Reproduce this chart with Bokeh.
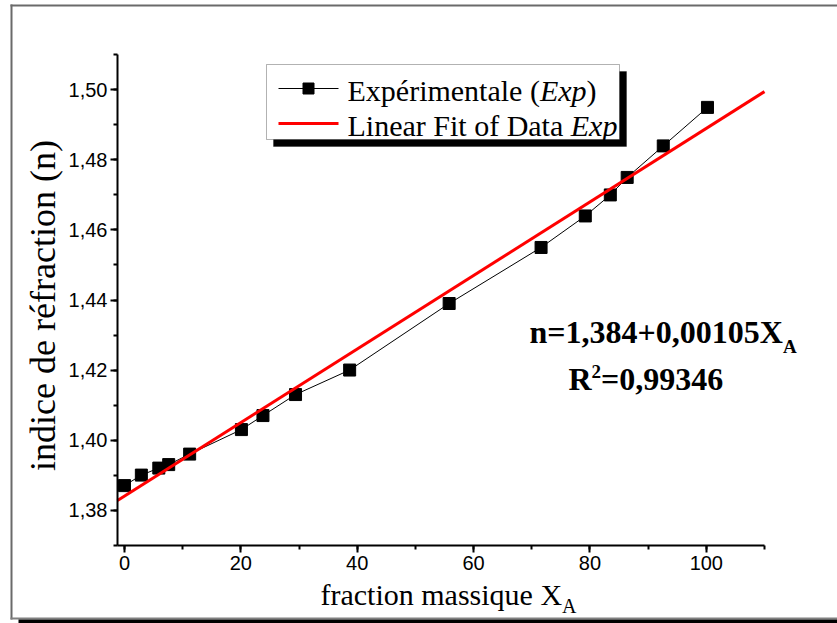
import numpy as np
from bokeh.plotting import figure
from bokeh.models import (Range1d, SingleIntervalTicker, CustomJSTickFormatter,
                          Label, BoxAnnotation)
from bokeh.embed import file_html
from bokeh.resources import INLINE

# ---------------- data ----------------
x_frac = [0, 2.9, 5.9, 7.6, 11.2, 20.1, 23.8, 29.4, 38.7, 55.8, 71.6, 79.2, 83.5, 86.4, 92.6, 100.2]
n_exp = [1.387, 1.390, 1.392, 1.393, 1.396, 1.403, 1.407, 1.413, 1.420, 1.439,
         1.455, 1.464, 1.470, 1.475, 1.484, 1.495]
fit_intercept = 1.384
fit_slope = 0.00105
r_squared = "0,99346"
x_axis_lim = [-1.2, 110]
y_axis_lim = [1.3699, 1.5101]

# ---------------- layout (page pixels) ----------------
W, H = 837, 623
OX, OY = 0, 0
FL, FR, FT, FB = 117, 764, 54, 545   # where the axes lie on the page
PX_X = (FR - FL) / (x_axis_lim[1] - x_axis_lim[0])
PX_Y = (FB - FT) / (y_axis_lim[1] - y_axis_lim[0])
VX0 = x_axis_lim[0] - (FL - OX) / PX_X
VX1 = VX0 + W / PX_X
VY1 = y_axis_lim[1] + (FT - OY) / PX_Y
VY0 = VY1 - H / PX_Y


def dx(px):
    return VX0 + (px - OX) / PX_X


def dy(py):
    return VY1 - (py - OY) / PX_Y


p = figure(width=W, height=H, output_backend="svg", toolbar_location=None,
           x_range=Range1d(VX0, VX1), y_range=Range1d(VY0, VY1),
           min_border=0, background_fill_color="white", border_fill_color="white")
p.outline_line_color = None
p.xgrid.visible = False
p.ygrid.visible = False

p.xaxis.ticker = SingleIntervalTicker(interval=20, num_minor_ticks=2)
p.yaxis.ticker = SingleIntervalTicker(interval=0.02, num_minor_ticks=2)
p.yaxis.formatter = CustomJSTickFormatter(code="return tick.toFixed(2).replace('.', ',');")
p.xaxis.fixed_location = y_axis_lim[0]
p.yaxis.fixed_location = x_axis_lim[0]
p.xaxis.bounds = tuple(x_axis_lim)
p.yaxis.bounds = tuple(y_axis_lim)
for ax in (p.xaxis, p.yaxis):
    ax.axis_line_width = 2
    ax.axis_line_color = "black"
    ax.major_tick_line_width = 2
    ax.minor_tick_line_width = 2
    ax.major_tick_out = 7
    ax.major_tick_in = 0
    ax.minor_tick_out = 4
    ax.minor_tick_in = 0
    ax.major_label_text_font = "Liberation Sans"
    ax.major_label_text_font_size = "20px"
    ax.major_label_text_color = "black"
    ax.major_label_standoff = 3

# ---------------- outer frame of the picture ----------------
GRAY = "#6a6a6a"
p.add_layout(BoxAnnotation(left=dx(10), right=dx(12), top=dy(4), bottom=dy(619),
                           fill_color=GRAY, fill_alpha=1, line_color=None, level="underlay"))
p.add_layout(BoxAnnotation(left=dx(10), top=dy(4), bottom=dy(6),
                           fill_color=GRAY, fill_alpha=1, line_color=None, level="underlay"))
p.add_layout(BoxAnnotation(left=dx(10), top=dy(617), bottom=dy(619),
                           fill_color="#808080", fill_alpha=1, line_color=None, level="underlay"))
p.add_layout(BoxAnnotation(left=dx(18), top=dy(619),
                           fill_color="black", fill_alpha=1, line_color=None, level="underlay"))

# ---------------- data marks ----------------
p.line(x_frac, n_exp, line_color="black", line_width=1)
p.scatter(x_frac, n_exp, marker="square", size=12, fill_color="black", line_color="black")
fit_x = np.array(x_axis_lim)
fit_y = fit_intercept + fit_slope * fit_x
p.line(fit_x, fit_y, line_color="#ff0000", line_width=3)

# ---------------- text helpers ----------------
REG = {' ': 250, '(': 333, ')': 333, ',': 250, '=': 564, '+': 564,
       'A': 722, 'D': 722, 'E': 611, 'F': 556, 'L': 611, 'R': 667, 'X': 722,
       'a': 444, 'c': 444, 'd': 500, 'e': 444, 'é': 444, 'f': 333, 'i': 278,
       'l': 278, 'm': 778, 'n': 500, 'o': 500, 'p': 500, 'q': 500, 'r': 333,
       's': 389, 't': 278, 'u': 500, 'x': 500}
ITA = {'E': 611, 'x': 444, 'p': 500}
BOLD = {'n': 556, '=': 570, '+': 570, ',': 250, 'X': 722, 'R': 722, 'A': 722}


def width(s, size, style):
    tab = ITA if style == "italic" else BOLD if style == "bold" else REG
    return sum(tab.get(c, REG.get(c, 500)) for c in s) * size / 1000.0


SERIF = "Liberation Serif"
MID = 0.35   # distance (in em) from the alphabetic baseline up to the text's middle


def put(pieces, px, py):
    """pieces: list of (text, size, style, baseline_shift_px); py is the baseline"""
    x = px
    for txt, size, style, shift in pieces:
        p.add_layout(Label(x=dx(x), y=dy(py + shift - MID * size), text=txt, text_font=SERIF,
                           text_font_size=f"{size}px", text_font_style=style,
                           text_color="black", text_align="left",
                           text_baseline="middle"))
        x += width(txt, size, style)


# ---------------- legend ----------------
p.add_layout(BoxAnnotation(left=dx(273), right=dx(626), top=dy(71), bottom=dy(146),
                           fill_color="black", fill_alpha=1, line_color="black",
                           level="underlay"))
p.add_layout(BoxAnnotation(left=dx(266), right=dx(619), top=dy(64), bottom=dy(139),
                           fill_color="white", fill_alpha=1, line_color="black",
                           line_width=1, level="underlay"))
p.line([dx(278), dx(338)], [dy(88), dy(88)], line_color="black", line_width=1)
p.scatter([dx(308)], [dy(88)], marker="square", size=11, fill_color="black", line_color="black")
p.line([dx(278), dx(338)], [dy(123), dy(123)], line_color="#ff0000", line_width=3)
put([("Expérimentale (", 30, "normal", 0), ("Exp", 30, "italic", 0), (")", 30, "normal", 0)], 347, 100)
put([("Linear Fit of Data ", 30, "normal", 0), ("Exp", 30, "italic", 0)], 347, 135)

# ---------------- equation ----------------
put([("n=1,384+0,00105X", 32, "bold", 0), ("A", 19, "bold", 10)], 529, 343)
put([("R", 32, "bold", 0), ("2", 19, "bold", -12), ("=" + r_squared, 32, "bold", 0)], 568, 390)

# ---------------- axis titles ----------------
put([("fraction massique X", 30, "normal", 0), ("A", 20, "normal", 8)], 320, 604)
p.add_layout(Label(x=dx(42), y=dy(305), text="indice de réfraction (n)", text_font=SERIF,
                   text_font_size="36px", text_color="black", angle=np.pi / 2,
                   text_align="center", text_baseline="middle"))

open("out.html", "w").write(file_html(p, INLINE))
